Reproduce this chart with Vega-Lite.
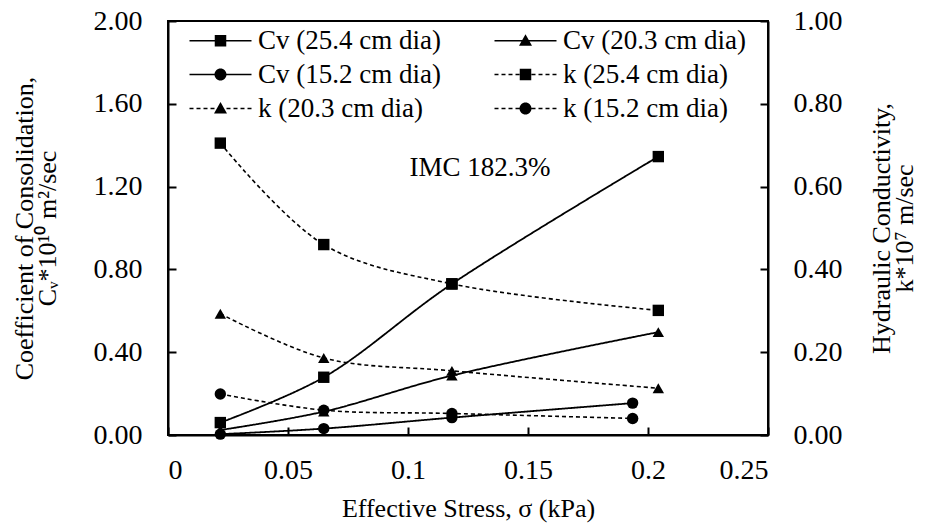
{
  "$schema": "https://vega.github.io/schema/vega-lite/v6.json",
  "width": 600,
  "height": 414,
  "autosize": {"type": "none"},
  "padding": {"left": 168, "top": 21, "right": 160, "bottom": 93},
  "background": "white",
  "config": {
    "font": "Liberation Serif, Times New Roman, serif",
    "view": {"stroke": "black", "strokeWidth": 2},
    "axis": {
      "labelFont": "Liberation Serif, Times New Roman, serif", "titleFont": "Liberation Serif, Times New Roman, serif",
      "labelFontSize": 28, "titleFontSize": 26, "titleFontWeight": "normal",
      "labelColor": "black", "titleColor": "black",
      "domainColor": "black", "domainWidth": 2,
      "tickColor": "black", "tickWidth": 2, "tickSize": -8,
      "grid": false, "labelPadding": 34, "titleLineHeight": 23
    },
    "legend": {
      "orient": "none", "legendX": 18, "legendY": 6, "direction": "horizontal",
      "columns": 2, "columnPadding": 50, "rowPadding": 6,
      "labelFont": "Liberation Serif, Times New Roman, serif", "labelFontSize": 27, "labelColor": "black", "labelLimit": 0,
      "symbolSize": 100, "symbolOffset": 21, "labelOffset": 24,
      "symbolStrokeWidth": 0, "symbolFillColor": "black", "symbolOpacity": 1, "padding": 0
    },
    "text": {"font": "Liberation Serif, Times New Roman, serif"}
  },
  "datasets": {
    "pts": [
      {"s": "Cv (25.4 cm dia)", "p": "Cv", "m": "square", "x": 0.0218, "v": 0.06},
      {"s": "Cv (25.4 cm dia)", "p": "Cv", "m": "square", "x": 0.0649, "v": 0.279},
      {"s": "Cv (25.4 cm dia)", "p": "Cv", "m": "square", "x": 0.1183, "v": 0.73},
      {"s": "Cv (25.4 cm dia)", "p": "Cv", "m": "square", "x": 0.2043, "v": 1.345},
      {"s": "Cv (20.3 cm dia)", "p": "Cv", "m": "triangle", "x": 0.0218, "v": 0.024},
      {"s": "Cv (20.3 cm dia)", "p": "Cv", "m": "triangle", "x": 0.0649, "v": 0.113},
      {"s": "Cv (20.3 cm dia)", "p": "Cv", "m": "triangle", "x": 0.1183, "v": 0.287},
      {"s": "Cv (20.3 cm dia)", "p": "Cv", "m": "triangle", "x": 0.2043, "v": 0.497},
      {"s": "Cv (15.2 cm dia)", "p": "Cv", "m": "circle", "x": 0.0218, "v": 0.004},
      {"s": "Cv (15.2 cm dia)", "p": "Cv", "m": "circle", "x": 0.0649, "v": 0.031},
      {"s": "Cv (15.2 cm dia)", "p": "Cv", "m": "circle", "x": 0.1183, "v": 0.084},
      {"s": "Cv (15.2 cm dia)", "p": "Cv", "m": "circle", "x": 0.1936, "v": 0.154},
      {"s": "k (25.4 cm dia)", "p": "k", "m": "square", "x": 0.0218, "v": 0.705},
      {"s": "k (25.4 cm dia)", "p": "k", "m": "square", "x": 0.0649, "v": 0.46},
      {"s": "k (25.4 cm dia)", "p": "k", "m": "square", "x": 0.1183, "v": 0.365},
      {"s": "k (25.4 cm dia)", "p": "k", "m": "square", "x": 0.2043, "v": 0.301},
      {"s": "k (20.3 cm dia)", "p": "k", "m": "triangle", "x": 0.0218, "v": 0.293},
      {"s": "k (20.3 cm dia)", "p": "k", "m": "triangle", "x": 0.0649, "v": 0.186},
      {"s": "k (20.3 cm dia)", "p": "k", "m": "triangle", "x": 0.1183, "v": 0.155},
      {"s": "k (20.3 cm dia)", "p": "k", "m": "triangle", "x": 0.2043, "v": 0.113},
      {"s": "k (15.2 cm dia)", "p": "k", "m": "circle", "x": 0.0218, "v": 0.099},
      {"s": "k (15.2 cm dia)", "p": "k", "m": "circle", "x": 0.0649, "v": 0.06},
      {"s": "k (15.2 cm dia)", "p": "k", "m": "circle", "x": 0.1183, "v": 0.052},
      {"s": "k (15.2 cm dia)", "p": "k", "m": "circle", "x": 0.1936, "v": 0.04}
    ],
    "ann": [{"x": 0.13, "v": 1.29, "t": "IMC 182.3%"}]
  },
  "layer": [
    {
      "encoding": {
        "x": {
          "field": "x", "type": "quantitative",
          "scale": {"domain": [0, 0.25], "nice": false, "zero": false},
          "axis": {"values": [0, 0.05, 0.1, 0.15, 0.2, 0.25], "format": "~g", "title": "Effective Stress, σ (kPa)", "labelPadding": 29, "titlePadding": 11}
        },
        "y": {
          "field": "v", "type": "quantitative",
          "scale": {"domain": [0, 2], "nice": false},
          "axis": {"orient": "left", "values": [0, 0.4, 0.8, 1.2, 1.6, 2], "format": ".2f", "title": ["Coefficient of Consolidation,", "Cᵥ*10¹⁰ m²/sec"], "titlePadding": 33}
        }
      },
      "layer": [
        {
          "data": {"name": "pts"},
          "transform": [{"filter": "datum.p === 'Cv'"}],
          "mark": {"type": "line", "interpolate": "catmull-rom", "color": "black", "strokeWidth": 1.8},
          "encoding": {
            "strokeDash": {
              "field": "s", "type": "nominal",
              "scale": {
                "domain": ["Cv (25.4 cm dia)", "Cv (20.3 cm dia)", "Cv (15.2 cm dia)", "k (25.4 cm dia)", "k (20.3 cm dia)", "k (15.2 cm dia)"],
                "range": [[1, 0], [1, 0], [1, 0], [4, 3], [4, 3], [4, 3]]
              },
              "legend": null
            }
          }
        },
        {
          "data": {"name": "pts"},
          "transform": [{"filter": "datum.p === 'Cv'"}],
          "mark": {"type": "point", "filled": true, "color": "black", "opacity": 1, "size": 130},
          "encoding": {
            "shape": {"field": "m", "type": "nominal", "scale": {"domain": ["square", "triangle", "circle"], "range": ["square", "triangle-up", "circle"]}, "legend": null}
          }
        },
        {
          "data": {"name": "ann"},
          "mark": {"type": "text", "font": "Liberation Serif, Times New Roman, serif", "fontSize": 27, "color": "black"},
          "encoding": {"text": {"field": "t"}}
        }
      ]
    },
    {
      "data": {"name": "pts"},
      "transform": [{"filter": "datum.p === 'k'"}],
      "encoding": {
        "x": {"field": "x", "type": "quantitative", "scale": {"domain": [0, 0.25], "nice": false, "zero": false}},
        "y": {
          "field": "v", "type": "quantitative",
          "scale": {"domain": [0, 1], "nice": false},
          "axis": {"orient": "right", "values": [0, 0.2, 0.4, 0.6, 0.8, 1], "format": ".2f", "title": ["Hydraulic Conductivity,", "k*10⁷ m/sec"], "titleAngle": -90, "titleBaseline": "top", "titlePadding": 3, "labelPadding": 33}
        }
      },
      "layer": [
        {
          "mark": {"type": "line", "interpolate": "catmull-rom", "color": "black", "strokeWidth": 1.6},
          "encoding": {
            "strokeDash": {"field": "s", "type": "nominal", "legend": null}
          }
        },
        {
          "mark": {"type": "point", "filled": true, "color": "black", "opacity": 1, "size": 130},
          "encoding": {
            "shape": {"field": "m", "type": "nominal", "scale": {"domain": ["square", "triangle", "circle"], "range": ["square", "triangle-up", "circle"]}, "legend": null}
          }
        }
      ]
    },
    {
      "data": {"name": "pts"},
      "transform": [{"filter": "false"}],
      "mark": {"type": "point", "filled": true, "color": "black", "opacity": 1},
      "encoding": {
        "shape": {
          "field": "s", "type": "nominal",
          "scale": {
            "domain": ["Cv (25.4 cm dia)", "Cv (20.3 cm dia)", "Cv (15.2 cm dia)", "k (25.4 cm dia)", "k (20.3 cm dia)", "k (15.2 cm dia)"],
            "range": [
              "M-6.2,-0.16H6.2V0.16H-6.2ZM-1.15,-1.15H1.15V1.15H-1.15Z",
              "M-6.2,-0.16H6.2V0.16H-6.2ZM0,-1.3L1.3,1H-1.3Z",
              "M-6.2,-0.16H6.2V0.16H-6.2ZM-1.2,0A1.2,1.2,0,1,1,1.2,0A1.2,1.2,0,1,1,-1.2,0Z",
              "M-6.2,-0.16H-5.4V0.16H-6.2ZM-4.8,-0.16H-4.0V0.16H-4.8ZM-3.4,-0.16H-2.6V0.16H-3.4ZM-2.0,-0.16H-1.2V0.16H-2.0ZM1.2,-0.16H2.0V0.16H1.2ZM2.6,-0.16H3.4V0.16H2.6ZM4.0,-0.16H4.8V0.16H4.0ZM5.4,-0.16H6.2V0.16H5.4ZM-1.15,-1.15H1.15V1.15H-1.15Z",
              "M-6.2,-0.16H-5.4V0.16H-6.2ZM-4.8,-0.16H-4.0V0.16H-4.8ZM-3.4,-0.16H-2.6V0.16H-3.4ZM-2.0,-0.16H-1.2V0.16H-2.0ZM1.2,-0.16H2.0V0.16H1.2ZM2.6,-0.16H3.4V0.16H2.6ZM4.0,-0.16H4.8V0.16H4.0ZM5.4,-0.16H6.2V0.16H5.4ZM0,-1.3L1.3,1H-1.3Z",
              "M-6.2,-0.16H-5.4V0.16H-6.2ZM-4.8,-0.16H-4.0V0.16H-4.8ZM-3.4,-0.16H-2.6V0.16H-3.4ZM-2.0,-0.16H-1.2V0.16H-2.0ZM1.2,-0.16H2.0V0.16H1.2ZM2.6,-0.16H3.4V0.16H2.6ZM4.0,-0.16H4.8V0.16H4.0ZM5.4,-0.16H6.2V0.16H5.4ZM-1.2,0A1.2,1.2,0,1,1,1.2,0A1.2,1.2,0,1,1,-1.2,0Z"
            ]
          },
          "legend": {"title": null}
        }
      }
    }
  ],
  "resolve": {"scale": {"y": "independent", "shape": "independent"}}
}
